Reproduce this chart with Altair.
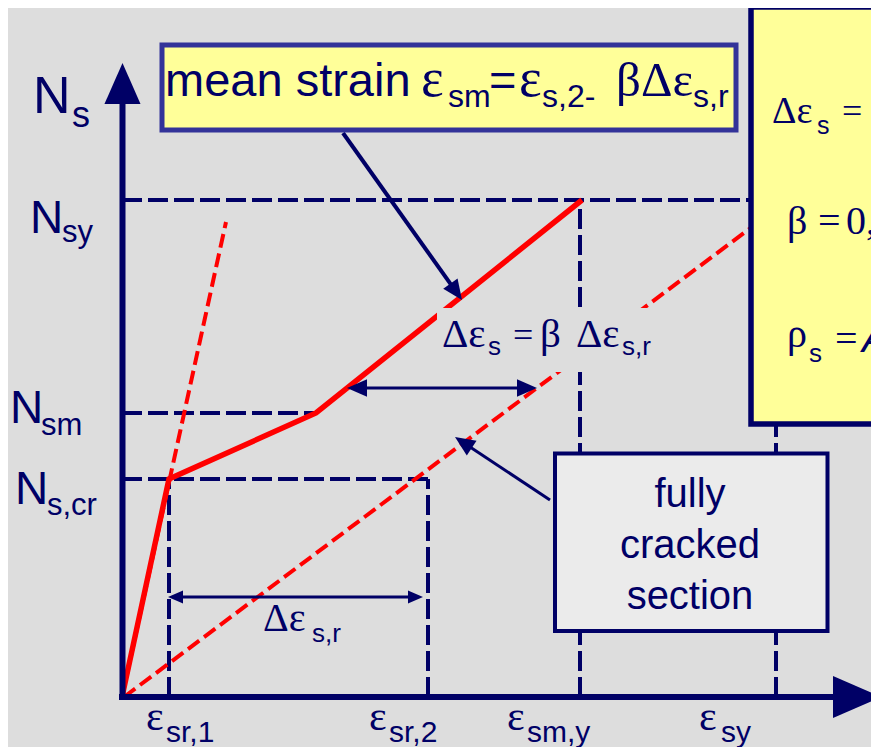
import altair as alt
import pandas as pd
import numpy as np

# ---------------- data (strain / force units) ----------------
eps_names = ["sr,1", "sr,2", "sm,y", "sy"]
eps_vals = [47, 306, 458, 654]
N_names = ["s,cr", "sm", "sy"]
N_vals = [218, 284, 497]

# mean strain curve (solid red)
curve_eps = [0, 47, 194, 460]
curve_N = [0, 218, 284, 497]
# uncracked line (dashed red, steep)
st1_eps = [0, 104]
st1_N = [0, 475]
# fully cracked section (dashed red)
st2_eps = [2, 638]
st2_N = [0, 476]

BG = "#DDDDDD"
NAVY = "#000066"
RED = "#FF0000"
SANS = "Liberation Sans"
SERIF = "Liberation Serif"

W, H = 863, 739
xs = alt.Scale(domain=[-114, 749], nice=False, zero=False)
ys = alt.Scale(domain=[-50, 689], nice=False, zero=False)


def X(f):
    return alt.X(f, type="quantitative", scale=xs, axis=None)


def Y(f):
    return alt.Y(f, type="quantitative", scale=ys, axis=None)


# ---------------- guide lines ----------------
dash_h = pd.DataFrame({
    "x": [0, 0, 0],
    "x2": [eps_vals[1], curve_eps[2], 640],
    "y": N_vals,
    "y2": N_vals,
})
dash_v = pd.DataFrame({
    "x": eps_vals,
    "x2": eps_vals,
    "y": [0, 0, 0, 0],
    "y2": [N_vals[0], N_vals[0], N_vals[2], 300],
})
guides = pd.concat([dash_h, dash_v], ignore_index=True)
guide_layer = alt.Chart(guides).mark_rule(
    color=NAVY, strokeWidth=4, strokeDash=[20, 6]
).encode(x=X("x"), y=Y("y"), x2="x2", y2="y2")

red_dash = pd.DataFrame({
    "x": [st1_eps[0], st2_eps[0]],
    "x2": [st1_eps[1], st2_eps[1]],
    "y": [st1_N[0], st2_N[0]],
    "y2": [st1_N[1], st2_N[1]],
})
red_dash_layer = alt.Chart(red_dash).mark_rule(
    color=RED, strokeWidth=4, strokeDash=[14, 6]
).encode(x=X("x"), y=Y("y"), x2="x2", y2="y2")

curve = pd.DataFrame({"x": curve_eps, "y": curve_N, "o": list(range(len(curve_eps)))})
curve_layer = alt.Chart(curve).mark_line(
    color=RED, strokeWidth=5.5, strokeJoin="miter"
).encode(x=X("x"), y=Y("y"), order="o:Q")

# ---------------- axes ----------------
axes = pd.DataFrame({"x": [0.5, -3], "x2": [0.5, 715], "y": [-3, 0], "y2": [600, 0]})
axes_layer = alt.Chart(axes).mark_rule(color=NAVY, strokeWidth=6).encode(
    x=X("x"), y=Y("y"), x2="x2", y2="y2"
)

HEAD = "M0,0L0.44,1L-0.44,1Z"

heads = [
    # tip x, tip y, direction x, direction y, length
    (0.5, 634, 0, 1, 41),
    (759, 0, 1, 0, 48),
]

# annotation arrows: start, tip, head length, line width
arrows = [
    ((221, 564), (340, 397), 20, 4),
    ((320, 309), (225, 309), 20, 3),
    ((320, 309), (415, 309), 20, 3),
    ((170, 100), (46, 100), 15, 3),
    ((170, 100), (301, 100), 15, 3),
    ((428, 197), (333, 260), 20, 3),
]

arrow_rows = []
for (sx, sy), (tx, ty), L, w in arrows:
    d = np.array([tx - sx, ty - sy], dtype=float)
    d /= np.linalg.norm(d)
    ex, ey = tx - d[0] * L * 0.7, ty - d[1] * L * 0.7
    arrow_rows.append({"x": sx, "y": sy, "x2": ex, "y2": ey, "w": w})
    heads.append((tx, ty, d[0], d[1], L))

arrow_df = pd.DataFrame(arrow_rows)
arrow_layers = []
for w in sorted(arrow_df["w"].unique()):
    arrow_layers.append(
        alt.Chart(arrow_df[arrow_df["w"] == w]).mark_rule(color=NAVY, strokeWidth=float(w)).encode(
            x=X("x"), y=Y("y"), x2="x2", y2="y2"
        )
    )

head_df = pd.DataFrame([
    {"x": hx, "y": hy, "size": 4 * L * L,
     "angle": float(np.degrees(np.arctan2(dx, dy)) % 360)}
    for hx, hy, dx, dy, L in heads
])
head_layer = alt.Chart(head_df).mark_point(
    shape=HEAD, filled=True, color=NAVY, opacity=1, strokeWidth=0
).encode(
    x=X("x"), y=Y("y"),
    size=alt.Size("size:Q", scale=None),
    angle=alt.Angle("angle:Q", scale=None),
)

# ---------------- boxes ----------------
patch = pd.DataFrame({"x": [315], "x2": [538], "y": [389], "y2": [325]})
patch_layer = alt.Chart(patch).mark_rect(color=BG).encode(
    x=X("x"), y=Y("y"), x2="x2", y2="y2"
)

box_mean = pd.DataFrame({"x": [40], "x2": [614], "y": [652], "y2": [567]})
box_mean_layer = alt.Chart(box_mean).mark_rect(
    fill="#FFFF99", stroke="#333399", strokeWidth=5
).encode(x=X("x"), y=Y("y"), x2="x2", y2="y2")

box_right = pd.DataFrame({"x": [629], "x2": [800], "y": [690], "y2": [273]})
box_right_layer = alt.Chart(box_right).mark_rect(
    fill="#FFFF99", stroke=NAVY, strokeWidth=5.5
).encode(x=X("x"), y=Y("y"), x2="x2", y2="y2")

box_gray = pd.DataFrame({"x": [433], "x2": [705.5], "y": [243.5], "y2": [66]})
box_gray_layer = alt.Chart(box_gray).mark_rect(
    fill="#EBEBEB", stroke=NAVY, strokeWidth=4
).encode(x=X("x"), y=Y("y"), x2="x2", y2="y2")

# ---------------- texts ----------------
styles = {
    "sans52": dict(font=SANS, fontSize=52),
    "sans46": dict(font=SANS, fontSize=46),
    "sans47": dict(font=SANS, fontSize=47),
    "sans40c": dict(font=SANS, fontSize=40, align="center"),
    "sans40i": dict(font=SANS, fontSize=40, fontStyle="italic"),
    "sub36": dict(font=SANS, fontSize=36),
    "sub32": dict(font=SANS, fontSize=32),
    "sub31": dict(font=SANS, fontSize=31),
    "sub30": dict(font=SANS, fontSize=30),
    "sub26": dict(font=SANS, fontSize=26),
    "sub25": dict(font=SANS, fontSize=25),
    "serif54": dict(font=SERIF, fontSize=54),
    "serif49": dict(font=SERIF, fontSize=49),
    "serif42": dict(font=SERIF, fontSize=42),
    "serif41": dict(font=SERIF, fontSize=41),
    "serif40": dict(font=SERIF, fontSize=40),
    "serif38": dict(font=SERIF, fontSize=38),
    "serif36": dict(font=SERIF, fontSize=36),
}

texts = [
    # axis labels
    ("N", -89, 584, "sans52"), ("s", -50, 570, "sub36"),
    ("N", -92, 464, "sans46"), (N_names[2], -60, 455, "sub31"),
    ("N", -112, 274, "sans46"), (N_names[1], -81, 262, "sub31"),
    ("N", -107, 193, "sans46"), (N_names[0], -75, 182, "sub31"),
    ("ε", 24, -33, "serif42"), (eps_names[0], 44, -45, "sub30"),
    ("ε", 247, -33, "serif42"), (eps_names[1], 267, -45, "sub30"),
    ("ε", 385, -33, "serif42"), (eps_names[2], 405, -45, "sub30"),
    ("ε", 577, -33, "serif42"), (eps_names[3], 599, -45, "sub30"),
    # mean strain box
    ("mean strain", 43, 601, "sans47"),
    ("ε", 299, 601, "serif54"), ("sm", 326, 590, "sub32"),
    ("=", 367, 601, "sans47"),
    ("ε", 397, 601, "serif54"), ("s,2-", 420, 590, "sub32"),
    ("βΔε", 494, 601, "serif49"), ("s,r", 571, 590, "sub32"),
    # right box
    ("Δε", 650, 574, "serif38"), ("s", 695, 563, "sub25"), ("=", 720, 574, "serif36"),
    ("β", 665, 463, "serif40"), ("=", 696, 463, "serif40"), ("0,", 724, 463, "serif40"),
    ("ρ", 665, 350, "serif40"), ("s", 687, 335, "sub26"), ("=", 713, 345, "serif40"),
    ("A", 740, 345, "sans40i"),
    # middle label
    ("Δε", 320, 350, "serif41"), ("s", 366, 342, "sub26"), ("=", 391, 350, "serif36"),
    ("β", 418, 350, "serif41"), ("Δε", 454, 350, "serif41"), ("s,r", 500, 342, "sub26"),
    # lower label
    ("Δε", 141, 66, "serif40"), ("s,r", 190, 55, "sub26"),
    # gray box
    ("fully", 568, 190, "sans40c"), ("cracked", 568, 139, "sans40c"), ("section", 568, 88, "sans40c"),
]
text_df = pd.DataFrame(texts, columns=["text", "x", "y", "style"])

text_layers = []
for key, props in styles.items():
    sub = text_df[text_df["style"] == key]
    if len(sub) == 0:
        continue
    p = dict(align="left", baseline="alphabetic", color=NAVY)
    p.update(props)
    text_layers.append(
        alt.Chart(sub).mark_text(**p).encode(x=X("x"), y=Y("y"), text="text:N")
    )

chart = alt.layer(
    guide_layer,
    red_dash_layer,
    curve_layer,
    axes_layer,
    *arrow_layers,
    head_layer,
    patch_layer,
    box_mean_layer,
    box_right_layer,
    box_gray_layer,
    *text_layers,
).properties(
    width=W, height=H, background=BG, padding=0,
    autosize=alt.AutoSizeParams(type="none"),
).configure_view(stroke=None)

chart.save("out.html", embed_options={"renderer": "svg", "actions": False})
